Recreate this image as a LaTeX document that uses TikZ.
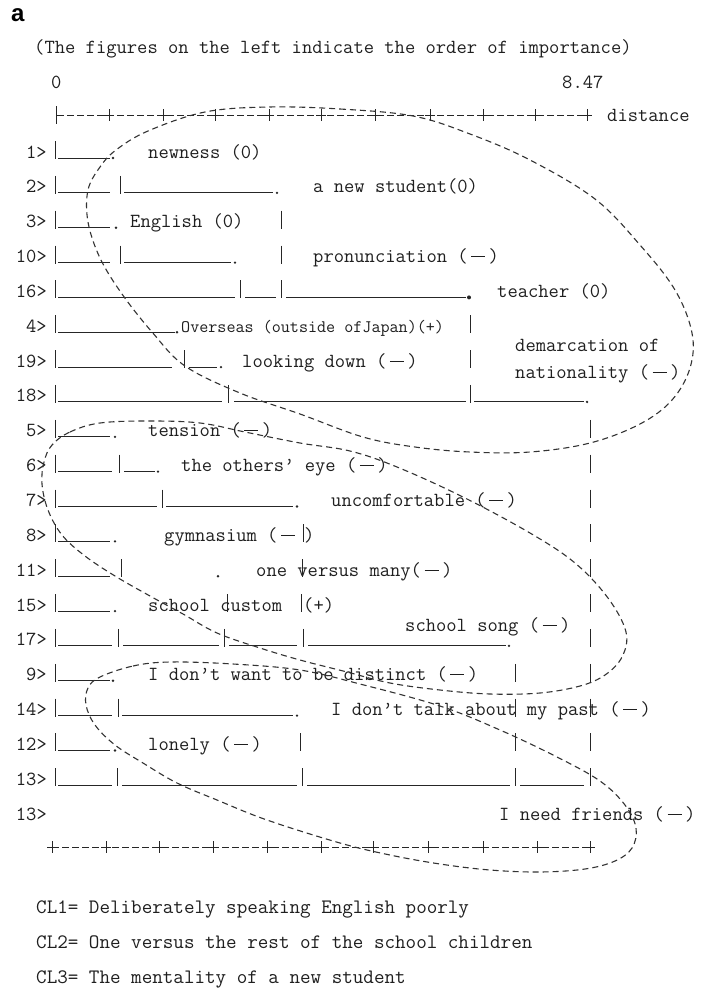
\documentclass[tikz,border=0pt]{standalone}
\usepackage{fontspec}
\newfontfamily\labfont{Liberation Sans}
\newcommand\mtxt{\ttfamily\fontsize{20}{22}\selectfont}
\newcommand\ctxt{\ttfamily\fontsize{20.5}{22}\selectfont}
\newcommand\otxt{\ttfamily\fontsize{17.6}{20}\selectfont}
\newcommand\emd{\makebox[1.05em]{\rule[0.27em]{0.7em}{0.055em}}}
\newcommand\dSeg[3]{\draw[ink] (#1,{152+34.85*#3+6}) -- (#2,{152+34.85*#3+6});}
\newcommand\dBar[2]{\draw[ink] (#1,{152+34.85*#2-11}) -- (#1,{152+34.85*#2+7});}
\newcommand\dDot[2]{\fill[black!85] (#1,{152+34.85*#2+6}) circle (1.3);}
\newcommand\dTxt[4]{\node[tx] (#1) at (#2,{152+34.85*#3+6}) {#4};}
\begin{document}
\begin{tikzpicture}[x=1pt,y=-1pt,
  ink/.style={draw=black!85, line width=1pt},
  tx/.style={font=\mtxt, anchor=base west, inner sep=0pt, text=black!88},
  num/.style={font=\mtxt, anchor=base east, inner sep=0pt, text=black!88},
  cl/.style={font=\ctxt, anchor=base west, inner sep=0pt, text=black!88},
  loopline/.style={draw=black!80, line width=1.1pt, dash pattern=on 6pt off 4pt},
  tick/.style={draw=black!85, line width=0.9pt}]
\fill[white] (0,0) rectangle (702,996);
\useasboundingbox (0,0) rectangle (702,996);
% panel letter and header
\node[font=\labfont\bfseries\fontsize{24}{24}\selectfont, anchor=base west, inner sep=0pt] (lbl) at (11,21) {a};
\node[tx] (title) at (34,53) {(The figures on the left indicate the order of importance)};
\node[tx] (zero) at (51,88) {0};
\node[tx] (max) at (562,88) {8.47};
% top axis
\draw[tick] (56,106) -- (56,124);
\draw[tick, dash pattern=on 7pt off 3pt] (57,115) -- (587,115);
\foreach \x in {109,163,215,269,321,375,430,483,535,587}
  {\draw[tick] (\x-5,115) -- (\x+5,115) (\x,109) -- (\x,121);}
\node[tx] (dist) at (607,121) {distance};
% bottom axis
\draw[tick, dash pattern=on 7pt off 3pt] (52,847) -- (590,847);
\foreach \x in {52,106,159,213,267,321,373,428,483,537,590}
  {\draw[tick] (\x-5,847) -- (\x+5,847) (\x,841) -- (\x,853);}
% row labels
\foreach \i/\l in {0/1,1/2,2/3,3/10,4/16,5/4,6/19,7/18,8/5,9/6,10/7,11/8,12/11,13/15,14/17,15/9,16/14,17/12,18/13,19/13}
  {\node[num] (n\i) at (47,{152+34.85*\i+6}) {\l>};}
% left frame bars
\foreach \i in {0,...,18} {\dBar{55}{\i}}
% row 1
\dSeg{58}{110}{0} \dDot{113}{0} \dTxt{t1}{148}{0}{newness (0)}
% row 2
\dSeg{58}{110}{1} \dBar{120}{1} \dSeg{124}{273}{1} \dDot{277}{1} \dTxt{t2}{313}{1}{a new student(0)}
% row 3
\dSeg{58}{110}{2} \dDot{116}{2} \dTxt{t3}{130}{2}{English (0)} \dBar{281}{2}
% row 10
\dSeg{58}{110}{3} \dBar{120}{3} \dSeg{124}{231}{3} \dDot{235}{3} \dBar{281}{3} \dTxt{t10}{313}{3}{pronunciation (\emd)}
% row 16
\dSeg{58}{235}{4} \dBar{240}{4} \dSeg{245}{276}{4} \dBar{281}{4} \dSeg{286}{466}{4}
\fill[black!85] (469,{152+34.85*4+6}) circle (2);
\dTxt{t16}{497}{4}{teacher (0)}
% row 4
\dSeg{58}{175}{5} \dDot{177}{5}
\node[tx, font=\otxt] (t4) at (181,{152+34.85*5+6}) {Overseas (outside ofJapan)(+)};
\dBar{470}{5}
% row 19
\dSeg{58}{172}{6} \dBar{184}{6} \dSeg{189}{217}{6} \dDot{221}{6} \dTxt{t19}{242}{6}{looking down (\emd)} \dBar{470}{6}
\node[tx] (dem1) at (515,351) {demarcation of};
\node[tx] (dem2) at (515,378) {nationality (\emd)};
% row 18
\dSeg{58}{222}{7} \dBar{228}{7} \dSeg{234}{466}{7} \dBar{470}{7} \dSeg{474}{584}{7} \dDot{587}{7}
% row 5
\dSeg{58}{110}{8} \dDot{115}{8} \dTxt{t5}{148}{8}{tension (\emd)} \dBar{590}{8}
% row 6
\dSeg{58}{112}{9} \dBar{119}{9} \dSeg{124}{155}{9} \dDot{158}{9} \dTxt{t6}{181}{9}{the others’ eye (\emd)} \dBar{590}{9}
% row 7
\dSeg{58}{157}{10} \dBar{162}{10} \dSeg{166}{293}{10} \dDot{297}{10} \dTxt{t7}{331}{10}{uncomfortable (\emd)} \dBar{590}{10}
% row 8
\dSeg{58}{110}{11} \dDot{115}{11} \dTxt{t8}{164}{11}{gymnasium (\emd} \dBar{303}{11} \dTxt{t8b}{304}{11}{)} \dBar{590}{11}
% row 11
\dSeg{58}{110}{12} \dBar{121}{12} \dDot{218}{12} \dTxt{t11}{256}{12}{one versus many(\emd)} \dBar{302}{12} \dBar{590}{12}
% row 15
\dSeg{58}{110}{13} \dDot{115}{13} \dTxt{t15}{148}{13}{school custom} \dBar{227}{13} \dBar{301}{13} \dTxt{t15b}{303}{13}{(+)} \dBar{590}{13}
\node[tx] (song) at (405,631) {school song (\emd)};
% row 17
\dSeg{58}{112}{14} \dBar{118}{14} \dSeg{123}{219}{14} \dBar{224}{14} \dSeg{229}{297}{14} \dBar{303}{14} \dSeg{308}{506}{14} \dDot{509}{14} \dBar{590}{14}
% row 9
\dSeg{58}{110}{15} \dDot{113}{15} \dTxt{t9}{148}{15}{I don’t want to be distinct (\emd)} \dBar{515}{15} \dBar{590}{15}
% row 14
\dSeg{58}{112}{16} \dBar{118}{16} \dSeg{122}{293}{16} \dDot{297}{16} \dTxt{t14}{331}{16}{I don’t talk about my past (\emd)} \dBar{515}{16} \dBar{590}{16}
% row 12
\dSeg{58}{110}{17} \dDot{115}{17} \dTxt{t12}{148}{17}{lonely (\emd)} \dBar{300}{17} \dBar{515}{17} \dBar{590}{17}
% row 13
\dSeg{58}{112}{18} \dBar{117}{18} \dSeg{122}{297}{18} \dBar{302}{18} \dSeg{307}{510}{18} \dBar{515}{18} \dSeg{520}{584}{18} \dBar{590}{18}
% row 13 (second)
\dTxt{t13b}{499}{19}{I need friends (\emd)}
% dashed cluster outlines
\draw[loopline] plot[smooth cycle, tension=0.6] coordinates {
 (269,107) (340,109) (413,116) (470,134) (530,160) (595,199) (640,245) (675,290)
 (692,333) (690,368) (672,400) (640,424) (590,443) (530,452) (470,452) (415,447)
 (363,437) (300,414) (240,393) (185,366) (152,332) (122,294) (100,258) (88,222)
 (88,190) (100,167) (116,150) (148,131) (205,112)};
\draw[loopline] plot[smooth cycle, tension=0.6] coordinates {
 (52,445) (70,432) (100,423) (150,421) (200,423) (245,432) (300,443) (350,451)
 (397,467) (463,497) (530,533) (575,563) (608,598) (626,632) (622,657) (605,675)
 (580,686) (540,693) (490,694) (440,690) (390,683) (347,672) (300,660) (260,648)
 (217,633) (183,614) (150,596) (115,576) (85,556) (62,535) (48,510) (42,484) (44,462)};
\draw[loopline] plot[smooth cycle, tension=0.6] coordinates {
 (100,677) (133,666) (170,662) (233,664) (300,670) (360,684) (440,706) (500,730)
 (557,757) (600,781) (625,805) (636,828) (632,848) (615,861) (585,869) (540,872)
 (490,870) (440,864) (390,855) (340,843) (267,820) (217,800) (177,783) (143,763)
 (115,745) (95,725) (86,705) (88,688)};
% cluster legend
\node[cl] (cl1) at (36,913) {CL1= Deliberately speaking English poorly};
\node[cl] (cl2) at (36,948) {CL2= One versus the rest of the school children};
\node[cl] (cl3) at (36,983) {CL3= The mentality of a new student};
\end{tikzpicture}
\end{document}
